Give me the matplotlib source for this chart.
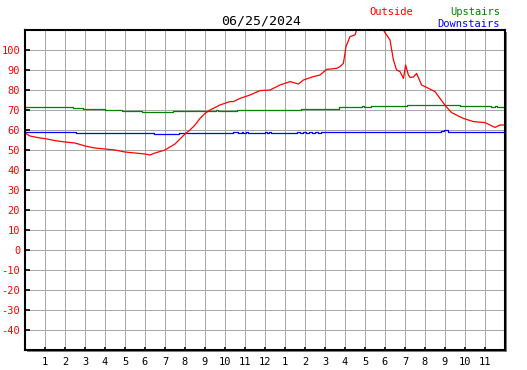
import matplotlib
matplotlib.use("Agg")
import matplotlib.pyplot as plt
from matplotlib.patches import Rectangle

title = "06/25/2024"

out_hours = [0, 0.25, 0.5, 0.75, 1, 1.5, 2, 2.5, 3, 3.5, 4, 4.5, 5, 5.5, 6, 6.25, 6.5, 7,
             7.25, 7.5, 7.75, 8, 8.25, 8.5, 8.75, 9, 9.25, 9.75, 10.25, 10.42, 10.75, 11.25,
             11.75, 12.25, 12.75, 13.25, 13.67, 13.92, 14.42, 14.75, 15.08, 15.58, 15.75,
             15.92, 16.05, 16.25, 16.5, 16.6, 17.0, 17.5, 17.88, 18.25, 18.42, 18.58, 18.75,
             18.92, 19.03, 19.17, 19.25, 19.42, 19.58, 19.83, 20.08, 20.5, 20.75, 21.03,
             21.33, 21.67, 21.92, 22.42, 23.0, 23.5, 23.75, 23.92]
out_vals = [58.5, 57.0, 56.5, 56.0, 55.7, 54.7, 54.0, 53.5, 52.0, 51.0, 50.5, 50.0, 49.0, 48.5,
            48.0, 47.5, 48.5, 50.0, 51.5, 53.0, 55.5, 58.0, 60.0, 62.5, 65.8, 68.3, 70.0, 72.5,
            74.2, 74.2, 75.8, 77.5, 79.7, 80.0, 82.5, 84.2, 83.0, 85.0, 86.7, 87.5, 90.3, 90.8,
            91.7, 93.3, 101.7, 106.7, 107.5, 110.5, 113.0, 114.0, 110.5, 105.0, 95.0, 90.0,
            89.2, 85.8, 92.5, 87.5, 86.3, 86.5, 88.3, 82.5, 81.3, 79.2, 75.8, 72.0, 68.7,
            67.0, 65.8, 64.2, 63.7, 61.3, 62.5, 62.5]

up_hours = [0, 0.97, 2.4, 2.92, 4.0, 4.83, 5.83, 7.42, 9.55, 9.65, 10.58, 13.78, 15.7,
            16.85, 16.95, 17.3, 19.08, 21.75, 23.3, 23.5, 23.6, 24]
up_vals = [71.7, 71.3, 70.8, 70.3, 69.8, 69.3, 68.8, 69.4, 69.9, 69.4, 70.2, 70.7, 71.3,
           71.8, 71.3, 71.8, 72.3, 71.8, 71.3, 71.8, 71.3, 71.3]

down_hours = [0, 2.55, 6.45, 7.7, 10.42, 10.67, 10.83, 10.92, 11.05, 11.17, 12.0, 12.12,
              12.22, 12.28, 13.58, 13.75, 13.9, 14.05, 14.2, 14.35, 14.5, 14.65, 14.8,
              15.08, 20.8, 20.95, 21.15, 24]
down_vals = [58.8, 58.3, 57.8, 58.3, 58.8, 58.3, 58.8, 58.3, 58.8, 58.3, 58.8, 58.3,
             58.8, 58.3, 58.8, 58.3, 58.8, 58.3, 58.8, 58.3, 58.8, 58.3, 58.8,
             58.8, 59.3, 59.8, 58.8, 58.8]

y_ticks = list(range(-40, 101, 10))
x_ticks = list(range(1, 24))
x_labels = [str(h if h <= 12 else h - 12) for h in x_ticks]

W, H = 527, 370
fig = plt.figure(figsize=(W / 100, H / 100), dpi=100)
fig.patch.set_facecolor("white")

L, T, R, B = 25, 30, 505, 350
ax = fig.add_axes([L / W, (H - B) / H, (R - L) / W, (B - T) / H])
ax.set_zorder(2)

# shadow
shadow = Rectangle(((L + 2) / W, (H - B - 2) / H), (R - L) / W, (B - T) / H,
                   transform=fig.transFigure, facecolor="#808080", edgecolor="none", zorder=-5)
fig.patches.append(shadow)

ax.set_xlim(0, 24)
ax.set_ylim(-50, 110)

for h in range(1, 24):
    ax.axvline(h, color="#a8a8a8", lw=0.72, zorder=1)
for v in range(-40, 110, 10):
    ax.axhline(v, color="#a8a8a8", lw=0.72, zorder=1)

ax.plot(up_hours, up_vals, color="#008000", lw=0.9, drawstyle="steps-post", zorder=3)
ax.plot(down_hours, down_vals, color="#0000ff", lw=0.9, drawstyle="steps-post", zorder=3)
ax.plot(out_hours, out_vals, color="#ff0000", lw=0.9, zorder=4)

ax.set_yticks(y_ticks)
ax.set_yticklabels([str(v) for v in y_ticks], color="red",
                   family="DejaVu Sans Mono", fontsize=7.5)
ax.set_xticks(x_ticks)
ax.set_xticklabels(x_labels, color="black", family="DejaVu Sans Mono", fontsize=7.5)
ax.tick_params(axis="y", direction="in", length=3.5, width=1.2, color="black", pad=3.5)
ax.tick_params(axis="x", direction="in", length=2.5, width=1.2, color="black", pad=5)

for s in ax.spines.values():
    s.set_linewidth(1.5)
    s.set_color("black")
    s.set_zorder(5)

fig.text(261 / W, 1 - 25 / H, title, ha="center", va="baseline",
         family="DejaVu Sans Mono", fontsize=9.5, color="black")
fig.text(369 / W, 1 - 15 / H, "Outside", ha="left", va="baseline",
         family="DejaVu Sans Mono", fontsize=7.5, color="red")
fig.text(500 / W, 1 - 15 / H, "Upstairs", ha="right", va="baseline",
         family="DejaVu Sans Mono", fontsize=7.5, color="#008000")
fig.text(500 / W, 1 - 27 / H, "Downstairs", ha="right", va="baseline",
         family="DejaVu Sans Mono", fontsize=7.5, color="blue")

fig.savefig("out.png", dpi=100)
